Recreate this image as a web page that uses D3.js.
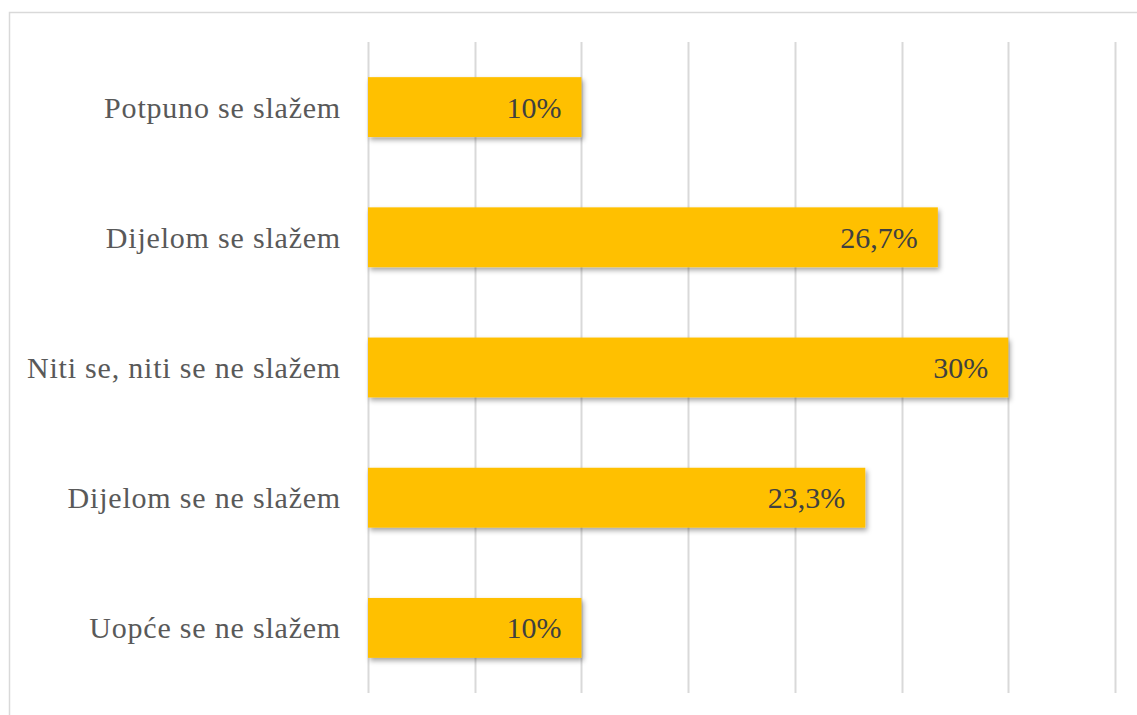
<!DOCTYPE html>
<html>
<head>
<meta charset="utf-8">
<script src="https://cdn.jsdelivr.net/npm/d3@7"></script>
<style>
  body { margin: 0; background: #fff; }
  svg { display: block; }
  .lbl { font-family: "Liberation Serif", "Times New Roman", Times, "DejaVu Serif", serif; font-size: 30px; }
  .cat { letter-spacing: 0.8px; }
</style>
</head>
<body>
<script>
// chart data
var categories = ["Potpuno se slažem", "Dijelom se slažem", "Niti se, niti se ne slažem", "Dijelom se ne slažem", "Uopće se ne slažem"];
var values = [10, 26.7, 30, 23.3, 10];
var valueLabels = ["10%", "26,7%", "30%", "23,3%", "10%"];
var xTicks = [0, 5, 10, 15, 20, 25, 30, 35];

var width = 1137, height = 715;
// plot area (note: "top" is a reserved window prop, so use other names)
var plotLeft = 368, plotRight = 1115, plotTop = 42, plotBottom = 693;

var svg = d3.select("body").append("svg")
  .attr("width", width)
  .attr("height", height);

// soft drop shadow under the bars
var defs = svg.append("defs");
var f = defs.append("filter").attr("id", "shadow")
  .attr("x", "-5%").attr("y", "-20%").attr("width", "115%").attr("height", "160%");
f.append("feDropShadow")
  .attr("dx", 2).attr("dy", 3).attr("stdDeviation", 2.5)
  .attr("flood-color", "#000").attr("flood-opacity", 0.35);

// outer chart border
svg.append("rect")
  .attr("x", 9.5).attr("y", 12.5)
  .attr("width", 1140).attr("height", 720)
  .attr("fill", "none")
  .attr("stroke", "#d9d9d9")
  .attr("stroke-width", 1.5);

var x = d3.scaleLinear().domain([0, 35]).range([plotLeft, plotRight]);
var y = d3.scaleBand().domain(categories).range([plotTop, plotBottom]).paddingInner(0.54).paddingOuter(0.27);

// vertical gridlines
svg.append("g").selectAll("line")
  .data(xTicks)
  .enter().append("line")
  .attr("x1", d => Math.round(x(d)) + 0.5)
  .attr("x2", d => Math.round(x(d)) + 0.5)
  .attr("y1", plotTop)
  .attr("y2", plotBottom)
  .attr("stroke", "#d9d9d9")
  .attr("stroke-width", 2);

// category labels
svg.append("g").selectAll("text")
  .data(categories)
  .enter().append("text")
  .attr("class", "lbl cat")
  .attr("x", plotLeft - 27)
  .attr("y", d => y(d) + y.bandwidth() / 2)
  .attr("dy", "0.35em")
  .attr("text-anchor", "end")
  .attr("fill", "#595959")
  .text(d => d);

// bars
svg.append("g").selectAll("rect")
  .data(values)
  .enter().append("rect")
  .attr("x", x(0))
  .attr("y", (d, i) => y(categories[i]))
  .attr("width", d => x(d) - x(0))
  .attr("height", y.bandwidth())
  .attr("fill", "#ffc000")
  .attr("filter", "url(#shadow)");

// value labels inside bar end
svg.append("g").selectAll("text")
  .data(values)
  .enter().append("text")
  .attr("class", "lbl")
  .attr("x", d => x(d) - 20)
  .attr("y", (d, i) => y(categories[i]) + y.bandwidth() / 2)
  .attr("dy", "0.35em")
  .attr("text-anchor", "end")
  .attr("fill", "#404040")
  .text((d, i) => valueLabels[i]);
</script>
</body>
</html>
